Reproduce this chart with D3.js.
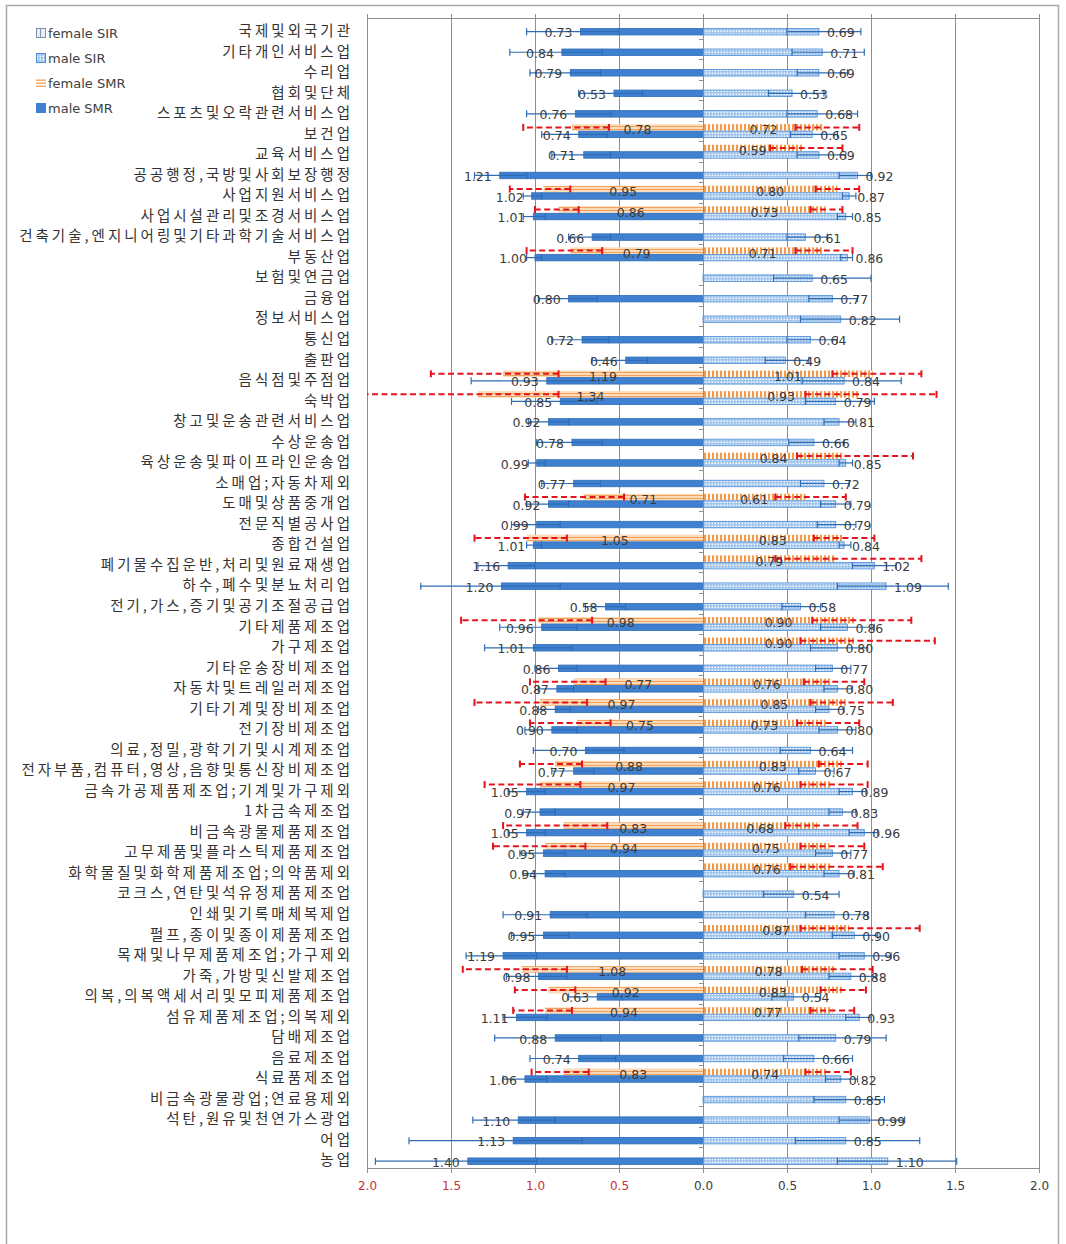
<!DOCTYPE html>
<html>
<head>
<meta charset="utf-8">
<script src="https://cdn.jsdelivr.net/npm/d3@7"></script>
<style>
  html, body { margin: 0; padding: 0; background: #fff; }
  svg { display: block; }
</style>
</head>
<body>
<svg id="chart" width="1066" height="1244"></svg>
<script>
const _ = null;

// Industry categories, top to bottom
const categories = [
  "국제및외국기관","기타개인서비스업","수리업","협회및단체","스포츠및오락관련서비스업","보건업","교육서비스업","공공행정,국방및사회보장행정",
  "사업지원서비스업","사업시설관리및조경서비스업","건축기술,엔지니어링및기타과학기술서비스업","부동산업","보험및연금업","금융업","정보서비스업","통신업",
  "출판업","음식점및주점업","숙박업","창고및운송관련서비스업","수상운송업","육상운송및파이프라인운송업","소매업;자동차제외","도매및상품중개업",
  "전문직별공사업","종합건설업","폐기물수집운반,처리및원료재생업","하수,폐수및분뇨처리업","전기,가스,증기및공기조절공급업","기타제품제조업","가구제조업","기타운송장비제조업",
  "자동차및트레일러제조업","기타기계및장비제조업","전기장비제조업","의료,정밀,광학기기및시계제조업","전자부품,컴퓨터,영상,음향및통신장비제조업","금속가공제품제조업;기계및가구제외","1차금속제조업","비금속광물제품제조업",
  "고무제품및플라스틱제품제조업","화학물질및화학제품제조업;의약품제외","코크스,연탄및석유정제품제조업","인쇄및기록매체복제업","펄프,종이및종이제품제조업","목재및나무제품제조업;가구제외","가죽,가방및신발제조업","의복,의복액세서리및모피제품제조업",
  "섬유제품제조업;의복제외","담배제조업","음료제조업","식료품제조업","비금속광물광업;연료용제외","석탄,원유및천연가스광업","어업","농업"
];

// male SMR with 95% CI
const maleSMR = [
  0.73,0.84,0.79,0.53,0.76,0.74,0.71,1.21,
  1.02,1.01,0.66,1.00,_,0.80,_,0.72,
  0.46,0.93,0.85,0.92,0.78,0.99,0.77,0.92,
  0.99,1.01,1.16,1.20,0.58,0.96,1.01,0.86,
  0.87,0.88,0.90,0.70,0.77,1.05,0.97,1.05,
  0.95,0.94,_,0.91,0.95,1.19,0.98,0.63,
  1.11,0.88,0.74,1.06,_,1.10,1.13,1.40
];
const maleSMRLow = [
  0.50,0.60,0.61,0.36,0.55,0.57,0.55,1.05,
  0.96,0.94,0.55,0.96,_,0.63,_,0.56,
  0.33,0.62,0.63,0.80,0.60,0.94,0.61,0.80,
  0.85,0.96,1.00,0.85,0.46,0.75,0.78,0.75,
  0.77,0.79,0.75,0.47,0.65,0.94,0.88,0.94,
  0.82,0.82,_,0.69,0.80,0.99,0.81,0.48,
  0.93,0.61,0.52,0.93,_,0.88,0.72,0.99
];
const maleSMRHigh = [
  1.05,1.15,1.03,0.74,1.05,0.96,0.90,1.36,
  1.07,1.07,0.80,1.05,_,0.98,_,0.90,
  0.66,1.38,1.14,1.04,0.99,1.04,0.96,1.05,
  1.14,1.05,1.34,1.68,0.70,1.21,1.30,1.00,
  0.98,0.98,1.06,1.01,0.90,1.16,1.07,1.16,
  1.09,1.07,_,1.19,1.14,1.41,1.17,0.80,
  1.19,1.24,1.03,1.19,_,1.37,1.75,1.95
];

// female SMR with 95% CI
const femaleSMR = [
  _,_,_,_,_,0.78,_,_,
  0.95,0.86,_,0.79,_,_,_,_,
  _,1.19,1.34,_,_,_,_,0.71,
  _,1.05,_,_,_,0.98,_,_,
  0.77,0.97,0.75,_,0.88,0.97,_,0.83,
  0.94,_,_,_,_,_,1.08,0.92,
  0.94,_,_,0.83,_,_,_,_
];
const femaleSMRLow = [
  _,_,_,_,_,0.56,_,_,
  0.79,0.74,_,0.60,_,_,_,_,
  _,0.86,0.86,_,_,_,_,0.47,
  _,0.81,_,_,_,0.66,_,_,
  0.58,0.69,0.55,_,0.72,0.73,_,0.57,
  0.70,_,_,_,_,_,0.81,0.76,
  0.78,_,_,0.68,_,_,_,_
];
const femaleSMRHigh = [
  _,_,_,_,_,1.07,_,_,
  1.15,1.00,_,1.05,_,_,_,_,
  _,1.62,2.10,_,_,_,_,1.06,
  _,1.36,_,_,_,1.44,_,_,
  1.03,1.36,1.03,_,1.09,1.30,_,1.19,
  1.25,_,_,_,_,_,1.43,1.12,
  1.13,_,_,1.02,_,_,_,_
];

// male SIR with 95% CI
const maleSIR = [
  0.69,0.71,0.69,0.53,0.68,0.65,0.69,0.92,
  0.87,0.85,0.61,0.86,0.65,0.77,0.82,0.64,
  0.49,0.84,0.79,0.81,0.66,0.85,0.72,0.79,
  0.79,0.84,1.02,1.09,0.58,0.86,0.80,0.77,
  0.80,0.75,0.80,0.64,0.67,0.89,0.83,0.96,
  0.77,0.81,0.54,0.78,0.90,0.96,0.88,0.54,
  0.93,0.79,0.66,0.82,0.85,0.99,0.85,1.10
];
const maleSIRLow = [
  0.50,0.53,0.56,0.39,0.50,0.52,0.56,0.81,
  0.83,0.80,0.50,0.82,0.42,0.63,0.58,0.50,
  0.37,0.59,0.61,0.72,0.51,0.81,0.58,0.70,
  0.68,0.81,0.89,0.80,0.47,0.70,0.64,0.67,
  0.72,0.67,0.69,0.46,0.57,0.81,0.75,0.87,
  0.67,0.72,0.36,0.61,0.77,0.81,0.75,0.41,
  0.85,0.57,0.48,0.73,0.66,0.81,0.55,0.80
];
const maleSIRHigh = [
  0.94,0.96,0.86,0.72,0.92,0.80,0.85,1.00,
  0.91,0.89,0.74,0.89,1.00,0.92,1.17,0.80,
  0.63,1.18,1.02,0.91,0.84,0.89,0.87,0.88,
  0.91,0.88,1.15,1.46,0.70,1.02,0.98,0.88,
  0.89,0.84,0.91,0.89,0.78,0.97,0.91,1.04,
  0.88,0.90,0.81,0.98,1.04,1.12,1.03,0.70,
  1.00,1.09,0.89,0.92,1.08,1.20,1.29,1.51
];

// female SIR with 95% CI
const femaleSIR = [
  _,_,_,_,_,0.72,0.59,_,
  0.80,0.73,_,0.71,_,_,_,_,
  _,1.01,0.93,_,_,0.84,_,0.61,
  _,0.83,0.79,_,_,0.90,0.90,_,
  0.76,0.85,0.73,_,0.83,0.76,_,0.68,
  0.75,0.76,_,_,0.87,_,0.78,0.83,
  0.77,_,_,0.74,_,_,_,_
];
const femaleSIRLow = [
  _,_,_,_,_,0.55,0.40,_,
  0.67,0.64,_,0.55,_,_,_,_,
  _,0.77,0.61,_,_,0.56,_,0.43,
  _,0.66,0.43,_,_,0.65,0.58,_,
  0.60,0.64,0.56,_,0.69,0.58,_,0.49,
  0.58,0.52,_,_,0.58,_,0.59,0.70,
  0.64,_,_,0.61,_,_,_,_
];
const femaleSIRHigh = [
  _,_,_,_,_,0.93,0.83,_,
  0.93,0.83,_,0.89,_,_,_,_,
  _,1.30,1.39,_,_,1.25,_,0.85,
  _,1.02,1.30,_,_,1.24,1.38,_,
  0.96,1.13,0.93,_,0.98,0.98,_,0.92,
  0.96,1.07,_,_,1.29,_,1.01,0.97,
  0.90,_,_,0.88,_,_,_,_
];

const tickValues = [-2, -1.5, -1, -0.5, 0, 0.5, 1, 1.5, 2];
const legendItems = ["female SIR", "male SIR", "female SMR", "male SMR"];

// ---- layout ----
const svg = d3.select("#chart");
const plot = { left: 367, right: 1039, top: 18, bottom: 1168 };
const x = d3.scaleLinear().domain([-2, 2]).range([plot.left, plot.right]);
const y = d3.scaleBand().domain(categories).range([plot.top, plot.bottom]);
const bw = y.bandwidth();
const rc = c => y(c) + bw / 2;

const NUM_FONT = "'DejaVu Sans', Verdana, sans-serif";
const KR_FONT = "'Noto Sans CJK KR', 'Noto Sans', sans-serif";

svg.append("rect").attr("width", 1066).attr("height", 1244).attr("fill", "#fff");
// outer chart frame
svg.append("rect")
  .attr("x", 6.5).attr("y", 5.5).attr("width", 1052).attr("height", 1270)
  .attr("fill", "none").attr("stroke", "#a9a9a9").attr("stroke-width", 1.5);

// ---- fill patterns ----
const defs = svg.append("defs");
const pMaleSIR = defs.append("pattern").attr("id", "pMaleSIR")
  .attr("patternUnits", "userSpaceOnUse").attr("width", 3).attr("height", 3);
pMaleSIR.append("rect").attr("width", 3).attr("height", 3).attr("fill", "#9fc4ec");
pMaleSIR.append("rect").attr("x", 0.5).attr("y", 0.5).attr("width", 1.6).attr("height", 1.6).attr("fill", "#f4f9ff");

const pFemSIR = defs.append("pattern").attr("id", "pFemSIR")
  .attr("patternUnits", "userSpaceOnUse").attr("width", 4).attr("height", 4);
pFemSIR.append("rect").attr("width", 4).attr("height", 4).attr("fill", "#fff8f0");
pFemSIR.append("rect").attr("width", 2).attr("height", 4).attr("fill", "#f29a4c");

const pFemSMR = defs.append("pattern").attr("id", "pFemSMR")
  .attr("patternUnits", "userSpaceOnUse").attr("width", 4).attr("height", 3);
pFemSMR.append("rect").attr("width", 4).attr("height", 3).attr("fill", "#fcdcb8");
pFemSMR.append("rect").attr("width", 4).attr("height", 1).attr("fill", "#f3a05a");

defs.append("clipPath").attr("id", "plotClip")
  .append("rect").attr("x", plot.left).attr("y", plot.top)
  .attr("width", plot.right - plot.left).attr("height", plot.bottom - plot.top);

// ---- grid and frame of the plot area ----
const grid = svg.append("g");
grid.selectAll("line.g").data(tickValues.filter(d => d !== 0)).join("line")
  .attr("x1", d => Math.round(x(d)) + 0.5).attr("x2", d => Math.round(x(d)) + 0.5)
  .attr("y1", plot.top - 4).attr("y2", plot.bottom)
  .attr("stroke", "#8e8e8e").attr("stroke-width", 1);
grid.append("line")
  .attr("x1", plot.left).attr("x2", plot.right)
  .attr("y1", plot.top + 0.5).attr("y2", plot.top + 0.5)
  .attr("stroke", "#8e8e8e");

// ---- series definitions ----
const series = [
  { key: "fSMR", v: femaleSMR, lo: femaleSMRLow, hi: femaleSMRHigh, dir: -1, female: true,  fill: "url(#pFemSMR)", stroke: "none" },
  { key: "mSMR", v: maleSMR,   lo: maleSMRLow,   hi: maleSMRHigh,   dir: -1, female: false, fill: "#3f80d0", stroke: "#2f6cb6" },
  { key: "fSIR", v: femaleSIR, lo: femaleSIRLow, hi: femaleSIRHigh, dir: 1,  female: true,  fill: "url(#pFemSIR)", stroke: "none" },
  { key: "mSIR", v: maleSIR,   lo: maleSIRLow,   hi: maleSIRHigh,   dir: 1,  female: false, fill: "url(#pMaleSIR)", stroke: "#4a8bd6" }
];

const barH = 6.5;
const barY = (c, female) => female ? rc(c) - 6.8 : rc(c) + 0.2;
const barMid = (c, female) => barY(c, female) + barH / 2;

const rowsOf = s => categories.map((c, i) => ({ c, v: s.v[i], lo: s.lo[i], hi: s.hi[i] }))
  .filter(d => d.v != null);

// bars
const barLayer = svg.append("g");
series.forEach(s => {
  barLayer.append("g").selectAll("rect").data(rowsOf(s)).join("rect")
    .attr("x", d => Math.min(x(0), x(s.dir * d.v)))
    .attr("width", d => Math.abs(x(s.dir * d.v) - x(0)))
    .attr("y", d => barY(d.c, s.female))
    .attr("height", barH)
    .attr("fill", s.fill)
    .attr("stroke", s.stroke)
    .attr("stroke-width", 0.8);
});

// center axis (0.0) with small category ticks
const axis0 = svg.append("g");
axis0.append("line")
  .attr("x1", Math.round(x(0)) + 0.5).attr("x2", Math.round(x(0)) + 0.5)
  .attr("y1", plot.top - 4).attr("y2", plot.bottom)
  .attr("stroke", "#8e8e8e");
axis0.selectAll("line.t").data(categories.slice(1)).join("line")
  .attr("x1", Math.round(x(0)) - 4).attr("x2", Math.round(x(0)))
  .attr("y1", d => Math.round(y(d)) + 0.5).attr("y2", d => Math.round(y(d)) + 0.5)
  .attr("stroke", "#8e8e8e");

// error bars
const errLayer = svg.append("g").attr("clip-path", "url(#plotClip)");
series.forEach(s => {
  const g = errLayer.append("g");
  const rows = rowsOf(s).filter(d => d.lo != null);
  const color = s.female ? "#e3141c" : "#2e6cb4";
  const sw = s.female ? 2 : 1.2;
  g.selectAll("line.e").data(rows).join("line")
    .attr("x1", d => x(s.dir * d.lo)).attr("x2", d => x(s.dir * d.hi))
    .attr("y1", d => barMid(d.c, s.female)).attr("y2", d => barMid(d.c, s.female))
    .attr("stroke", color).attr("stroke-width", sw)
    .attr("stroke-dasharray", s.female ? "6,3.5" : null);
  ["lo", "hi"].forEach(k => {
    g.selectAll("line.c" + k).data(rows).join("line")
      .attr("x1", d => x(s.dir * d[k])).attr("x2", d => x(s.dir * d[k]))
      .attr("y1", d => barMid(d.c, s.female) - 3.5).attr("y2", d => barMid(d.c, s.female) + 3.5)
      .attr("stroke", color).attr("stroke-width", s.female ? 2 : 1.2);
  });
});

// value labels
const lblLayer = svg.append("g")
  .attr("font-family", NUM_FONT).attr("font-size", 12.5).attr("fill", "#3b3b3b");
series.forEach(s => {
  lblLayer.append("g").selectAll("text").data(rowsOf(s)).join("text")
    .attr("x", d => s.female ? x(s.dir * d.v / 2) : x(s.dir * d.v) + s.dir * 8)
    .attr("y", d => s.female ? rc(d.c) - 1 : rc(d.c) + 4.5)
    .attr("dy", "0.36em")
    .attr("text-anchor", s.female ? "middle" : (s.dir < 0 ? "end" : "start"))
    .text(d => d.v.toFixed(2));
});

// category labels
svg.append("g").selectAll("text").data(categories).join("text")
  .attr("x", 353).attr("y", d => rc(d) + 2.5)
  .attr("dy", "0.36em")
  .attr("text-anchor", "end")
  .attr("font-family", KR_FONT).attr("font-size", 14.5)
  .style("letter-spacing", "3px")
  .attr("fill", "#333")
  .text(d => d);

// bottom value axis
const xAxis = svg.append("g").attr("transform", `translate(0,${plot.bottom})`)
  .call(d3.axisBottom(x).tickValues(tickValues).tickSize(5).tickPadding(8)
    .tickFormat(d => Math.abs(d).toFixed(1)));
xAxis.select(".domain").attr("stroke", "#8e8e8e");
xAxis.selectAll(".tick line").attr("stroke", "#8e8e8e");
xAxis.selectAll(".tick text")
  .attr("font-family", NUM_FONT).attr("font-size", 12)
  .attr("fill", d => d < 0 ? "#cc2f3c" : "#3b3b3b");

// legend
const lg = svg.append("g").attr("font-family", NUM_FONT).attr("font-size", 13).attr("fill", "#404040");
const li = lg.selectAll("g").data(legendItems).join("g")
  .attr("transform", (d, i) => `translate(36,${33 + i * 25})`);
li.append("text").attr("x", 12).attr("dy", "0.36em").text(d => d);
li.each(function (d) {
  const g = d3.select(this);
  if (d === "female SIR") {
    g.append("rect").attr("x", 0.5).attr("y", -4.5).attr("width", 9).attr("height", 9)
      .attr("fill", "#e9eef4").attr("stroke", "#7f93aa");
    g.append("line").attr("x1", 4.5).attr("x2", 4.5).attr("y1", -4).attr("y2", 4)
      .attr("stroke", "#7f93aa");
  } else if (d === "male SIR") {
    g.append("rect").attr("x", 0.5).attr("y", -4.5).attr("width", 9).attr("height", 9)
      .attr("fill", "url(#pMaleSIR)").attr("stroke", "#4a8bd6");
  } else if (d === "female SMR") {
    [-3.5, -0.5, 2.5].forEach(yy => g.append("rect").attr("x", 0).attr("y", yy)
      .attr("width", 10).attr("height", 1.3).attr("fill", "#f3a05a"));
  } else {
    g.append("rect").attr("x", 0).attr("y", -5).attr("width", 10).attr("height", 10)
      .attr("fill", "#3f80d0");
  }
});
</script>
</body>
</html>
